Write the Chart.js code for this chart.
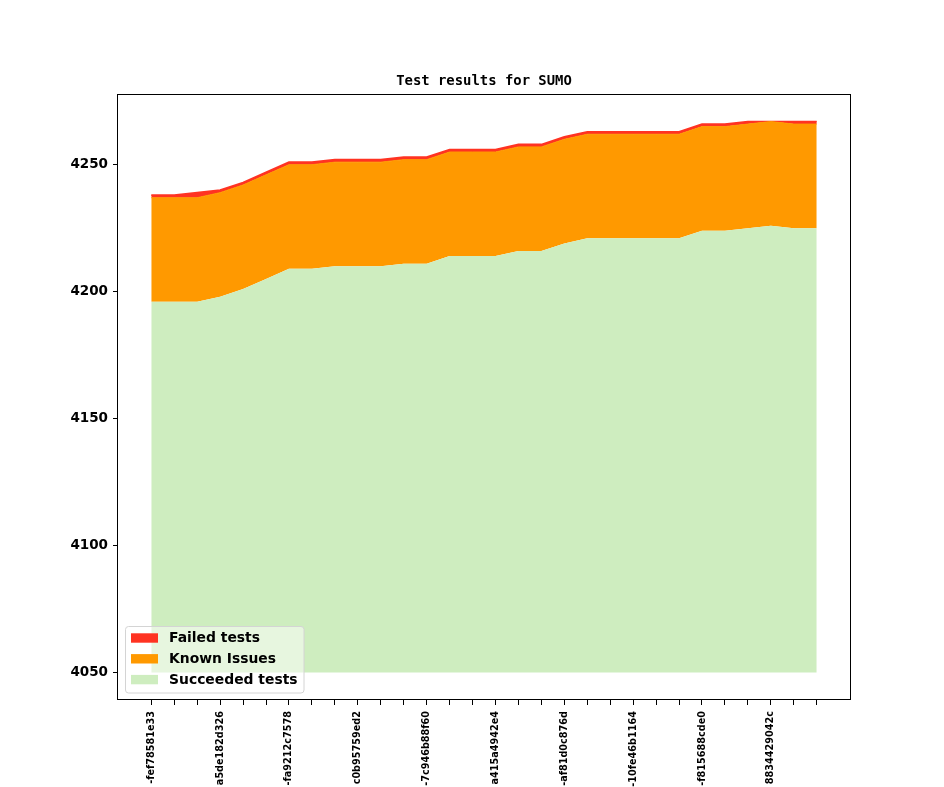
<!DOCTYPE html>
<html>
<head>
<meta charset="utf-8">
<title>Test results for SUMO</title>
<script src="https://cdn.jsdelivr.net/npm/chart.js@4.4.1/dist/chart.umd.min.js"></script>
<style>
  html, body { margin: 0; padding: 0; background: #ffffff; }
  canvas { display: block; }
</style>
</head>
<body>
<canvas id="chart" width="944" height="787"></canvas>
<script>
// Commit ids shown under every third tick (cut off at the bottom of the figure)
const tickLabels = [
  '-fef78581e33', 'a5de182d326', '-fa9212c7578', 'c0b95759ed2', '-7c946b88f60',
  'a415a4942e4', '-af81d0c876d', '-10fe46b1164', '-f815688cde0', '8834429042c',
];
const labelEvery = 3;

// Stacked counts per build, bottom to top
const succeeded = [
  4196, 4196, 4196, 4198, 4201, 4205, 4209, 4209, 4210, 4210,
  4210, 4211, 4211, 4214, 4214, 4214, 4216, 4216, 4219, 4221,
  4221, 4221, 4221, 4221, 4224, 4224, 4225, 4226, 4225, 4225,
];
const knownIssues = [
  41, 41, 41, 41, 41, 41, 41, 41, 41, 41,
  41, 41, 41, 41, 41, 41, 41, 41, 41, 41,
  41, 41, 41, 41, 41, 41, 41, 41, 41, 41,
];
const failed = [
  1, 1, 2, 1, 1, 1, 1, 1, 1, 1,
  1, 1, 1, 1, 1, 1, 1, 1, 1, 1,
  1, 1, 1, 1, 1, 1, 1, 0, 1, 1,
];
const baseline = 4050;
const yTicks = [4050, 4100, 4150, 4200, 4250];

const COLORS = {
  failed: '#ff3322',
  known: '#ff9900',
  succeeded: '#ceedbf',
};

const points = (arr) => arr.map((v, i) => ({ x: i, y: v }));

/**
 * Frame, title and the in-axes legend (matplotlib look).
 */
const decorPlugin = {
  id: 'decor',
  afterDraw(chart) {
    const { ctx, chartArea: a } = chart;
    ctx.save();

    // axes frame
    ctx.strokeStyle = '#000000';
    ctx.lineWidth = 1;
    ctx.strokeRect(Math.round(a.left) - 0.5, Math.round(a.top) + 0.5,
      Math.round(a.right - a.left) + 1, Math.round(a.bottom - a.top) - 1);

    // title
    ctx.fillStyle = '#000000';
    ctx.font = 'bold 13.9px "DejaVu Sans Mono", monospace';
    ctx.textAlign = 'center';
    ctx.textBaseline = 'middle';
    ctx.fillText('Test results for SUMO', (a.left + a.right) / 2, 81.5);

    // legend box
    const bx = a.left + 7.5, by = a.bottom - 73.5, bw = 178.5, bh = 66.5;
    ctx.beginPath();
    ctx.roundRect(bx, by, bw, bh, 3);
    ctx.fillStyle = 'rgba(255,255,255,0.5)';
    ctx.fill();
    ctx.strokeStyle = '#d4d4d4';
    ctx.stroke();

    const entries = [
      ['Failed tests', COLORS.failed],
      ['Known Issues', COLORS.known],
      ['Succeeded tests', COLORS.succeeded],
    ];
    ctx.font = 'bold 13.9px "DejaVu Sans", sans-serif';
    ctx.textAlign = 'left';
    entries.forEach(([label, color], i) => {
      const cy = by + 11.5 + i * 20.8;
      ctx.fillStyle = color;
      ctx.fillRect(bx + 5.5, cy - 4.7, 27, 9.4);
      ctx.fillStyle = '#000000';
      ctx.fillText(label, bx + 43.5, cy + 0.5);
    });

    ctx.restore();
  },
};

new Chart(document.getElementById('chart'), {
  type: 'line',
  data: {
    datasets: [
      {
        label: 'Succeeded tests',
        data: points(succeeded),
        backgroundColor: COLORS.succeeded,
        borderColor: COLORS.succeeded,
        borderWidth: 0,
        fill: { value: baseline },
      },
      {
        label: 'Known Issues',
        data: points(knownIssues),
        backgroundColor: COLORS.known,
        borderColor: COLORS.known,
        borderWidth: 1,
        fill: '-1',
      },
      {
        label: 'Failed tests',
        data: points(failed),
        backgroundColor: COLORS.failed,
        borderColor: COLORS.failed,
        borderWidth: 1.6,
        fill: '-1',
      },
    ],
  },
  options: {
    responsive: false,
    animation: false,
    devicePixelRatio: 1,
    layout: { padding: { left: 0, right: 94, top: 94, bottom: 0 } },
    elements: {
      point: { radius: 0, hoverRadius: 0 },
      line: { tension: 0 },
    },
    plugins: {
      legend: { display: false },
      title: { display: false },
      tooltip: { enabled: false },
    },
    scales: {
      x: {
        type: 'linear',
        min: -1.45,
        max: succeeded.length - 1 + 1.45,
        afterBuildTicks: (axis) => {
          axis.ticks = succeeded.map((_, i) => ({ value: i }));
        },
        afterFit: (axis) => {
          axis.height = 87;
          axis.paddingLeft = 0;
          axis.paddingRight = 0;
        },
        border: { display: false },
        grid: {
          drawOnChartArea: false,
          drawTicks: true,
          tickLength: 5,
          color: '#000000',
        },
        ticks: {
          autoSkip: false,
          maxRotation: 90,
          minRotation: 90,
          padding: 6,
          color: '#000000',
          font: { family: 'DejaVu Sans', size: 9.7, weight: 'bold' },
          callback: (v) => (v % labelEvery === 0 ? tickLabels[v / labelEvery] : ''),
        },
      },
      y: {
        type: 'linear',
        stacked: true,
        min: 4039.15,
        max: 4277.85,
        afterBuildTicks: (axis) => {
          axis.ticks = yTicks.map((v) => ({ value: v }));
        },
        afterFit: (axis) => {
          axis.width = 118;
          axis.paddingTop = 0;
          axis.paddingBottom = 0;
        },
        border: { display: false },
        grid: {
          drawOnChartArea: false,
          drawTicks: true,
          tickLength: 5,
          color: '#000000',
        },
        ticks: {
          padding: 5,
          color: '#000000',
          font: { family: 'DejaVu Sans', size: 13.5, weight: 'bold' },
          callback: (v) => String(v),
        },
      },
    },
  },
  plugins: [decorPlugin],
});
</script>
</body>
</html>
